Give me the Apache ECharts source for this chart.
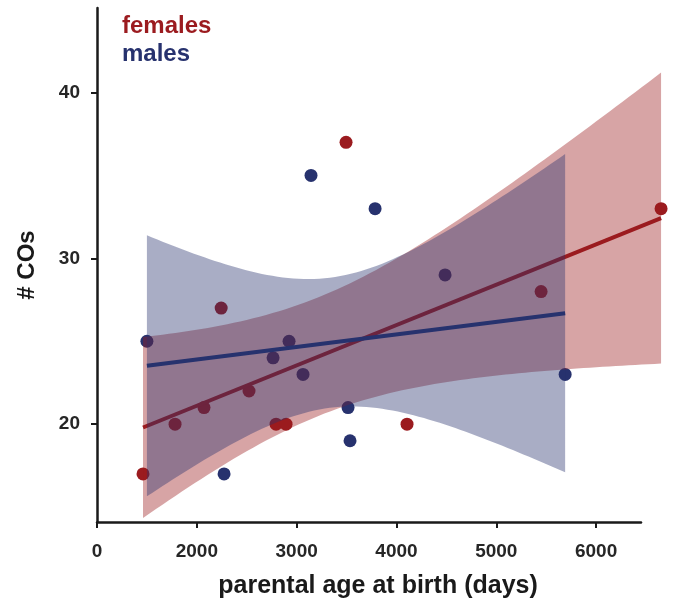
<!DOCTYPE html>
<html>
<head>
<meta charset="utf-8">
<script src="https://cdn.jsdelivr.net/npm/echarts@6/dist/echarts.min.js"></script>
<style>
  html, body { margin: 0; padding: 0; background: #fff; }
  #main { width: 673px; height: 602px; }
</style>
</head>
<body>
<div id="main"></div>
<script>
// parental age at birth (days) and number of crossovers, per sex
var femaleAge = [1461, 1782, 2072, 2244, 2523, 2794, 2894, 3495, 4106, 5449, 6651];
var femaleCOs = [17, 20, 21, 27, 22, 20, 20, 37, 20, 28, 33];
var maleAge = [1500, 2273, 2764, 2924, 3064, 3144, 3515, 3535, 3786, 4487, 5690];
var maleCOs = [25, 17, 24, 25, 23, 35, 21, 19, 33, 29, 23];

var xTicks = [1000, 2000, 3000, 4000, 5000, 6000];
var yTicks = [20, 30, 40];

var RED = '#9b1b1f';
var BLUE = '#27326e';
var T_CRIT = 2.262; // t(0.975, df = 9)

// ordinary least squares fit with 95% confidence band of the mean
function fit(xs, ys) {
    var n = xs.length, mx = 0, my = 0;
    for (var i = 0; i < n; i++) { mx += xs[i]; my += ys[i]; }
    mx /= n; my /= n;
    var sxx = 0, sxy = 0;
    for (i = 0; i < n; i++) {
        sxx += (xs[i] - mx) * (xs[i] - mx);
        sxy += (xs[i] - mx) * (ys[i] - my);
    }
    var b = sxy / sxx, a = my - b * mx, sse = 0;
    for (i = 0; i < n; i++) {
        var r = ys[i] - (a + b * xs[i]);
        sse += r * r;
    }
    var s = Math.sqrt(sse / (n - 2));
    var x0 = Math.min.apply(null, xs), x1 = Math.max.apply(null, xs);
    var lo = [], hi = [];
    for (var k = 0; k <= 80; k++) {
        var x = x0 + (x1 - x0) * k / 80;
        var yh = a + b * x;
        var h = T_CRIT * s * Math.sqrt(1 / n + (x - mx) * (x - mx) / sxx);
        lo.push([x, yh - h]);
        hi.push([x, yh + h]);
    }
    return { line: [[x0, a + b * x0], [x1, a + b * x1]], lo: lo, hi: hi };
}

var fF = fit(femaleAge, femaleCOs);
var fM = fit(maleAge, maleCOs);

function pairs(xs, ys) {
    return xs.map(function (x, i) { return [x, ys[i]]; });
}

// confidence band drawn as one polygon through the axes' coordinate system
function band(name, f, color, z) {
    return {
        name: name + ' ci', type: 'custom', data: f.lo, z: z, silent: true,
        encode: { x: 0, y: 1 },
        renderItem: function (params, api) {
            if (params.dataIndex !== 0) return null;
            var pts = f.lo.map(function (p) { return api.coord(p); });
            var top = f.hi.map(function (p) { return api.coord(p); }).reverse();
            return {
                type: 'polygon',
                shape: { points: pts.concat(top) },
                style: { fill: color, opacity: 0.4 }
            };
        }
    };
}

// fitted line, drawn unclipped so it can run past the axis end
function fitLine(name, f, color, z) {
    return {
        name: name + ' fit', type: 'custom', data: f.line, z: z, silent: true,
        encode: { x: 0, y: 1 },
        renderItem: function (params, api) {
            if (params.dataIndex !== 0) return null;
            return {
                type: 'polyline',
                shape: { points: f.line.map(function (p) { return api.coord(p); }) },
                style: { stroke: color, lineWidth: 4, fill: null }
            };
        }
    };
}

var font = '"Liberation Sans", Arial, sans-serif';

var option = {
    animation: false,
    grid: { left: 97, right: 32, top: 8, bottom: 80, outerBoundsMode: 'none' },
    legend: {
        orient: 'vertical', left: 112, top: 9, icon: 'none',
        itemWidth: 0, itemGap: 4,
        textStyle: { fontSize: 24, fontWeight: 'bold', fontFamily: font },
        data: [
            { name: 'females', textStyle: { color: RED } },
            { name: 'males', textStyle: { color: BLUE } }
        ],
        selectedMode: false
    },
    xAxis: {
        type: 'value', min: 1000, max: 6450,
        name: 'parental age at birth (days)', nameLocation: 'middle', nameGap: 52,
        nameTextStyle: {
            fontSize: 25, fontWeight: 'bold', color: '#1a1a1a', fontFamily: font,
            padding: [0, 0, 0, 18]
        },
        splitLine: { show: false },
        axisLine: { lineStyle: { color: '#1a1a1a', width: 2.5 } },
        axisTick: { customValues: xTicks, length: 6, lineStyle: { color: '#1a1a1a', width: 2 } },
        axisLabel: {
            customValues: xTicks, margin: 20,
            fontSize: 19, fontWeight: 'bold', color: '#262626', fontFamily: font,
            formatter: function (v) { return v === 1000 ? '0' : String(v); }
        }
    },
    yAxis: {
        type: 'value', min: 14.1, max: 45.1,
        name: '# COs', nameLocation: 'middle', nameGap: 58, nameRotate: 90,
        nameTextStyle: { fontSize: 24, fontWeight: 'bold', color: '#1a1a1a', fontFamily: font },
        splitLine: { show: false },
        axisLine: { show: true, lineStyle: { color: '#1a1a1a', width: 2.5 } },
        axisTick: { customValues: yTicks, length: 6, lineStyle: { color: '#1a1a1a', width: 2 } },
        axisLabel: {
            customValues: yTicks, margin: 17,
            fontSize: 19, fontWeight: 'bold', color: '#262626', fontFamily: font
        }
    },
    series: [
        {
            name: 'females', type: 'scatter', data: pairs(femaleAge, femaleCOs),
            symbolSize: 13, itemStyle: { color: RED, opacity: 1 }, clip: false, z: 1
        },
        {
            name: 'males', type: 'scatter', data: pairs(maleAge, maleCOs),
            symbolSize: 13, itemStyle: { color: BLUE, opacity: 1 }, clip: false, z: 1
        },
        band('females', fF, RED, 2),
        fitLine('females', fF, RED, 3),
        band('males', fM, BLUE, 4),
        fitLine('males', fM, BLUE, 5)
    ]
};

var chart = echarts.init(document.getElementById('main'));
chart.setOption(option);
</script>
</body>
</html>
